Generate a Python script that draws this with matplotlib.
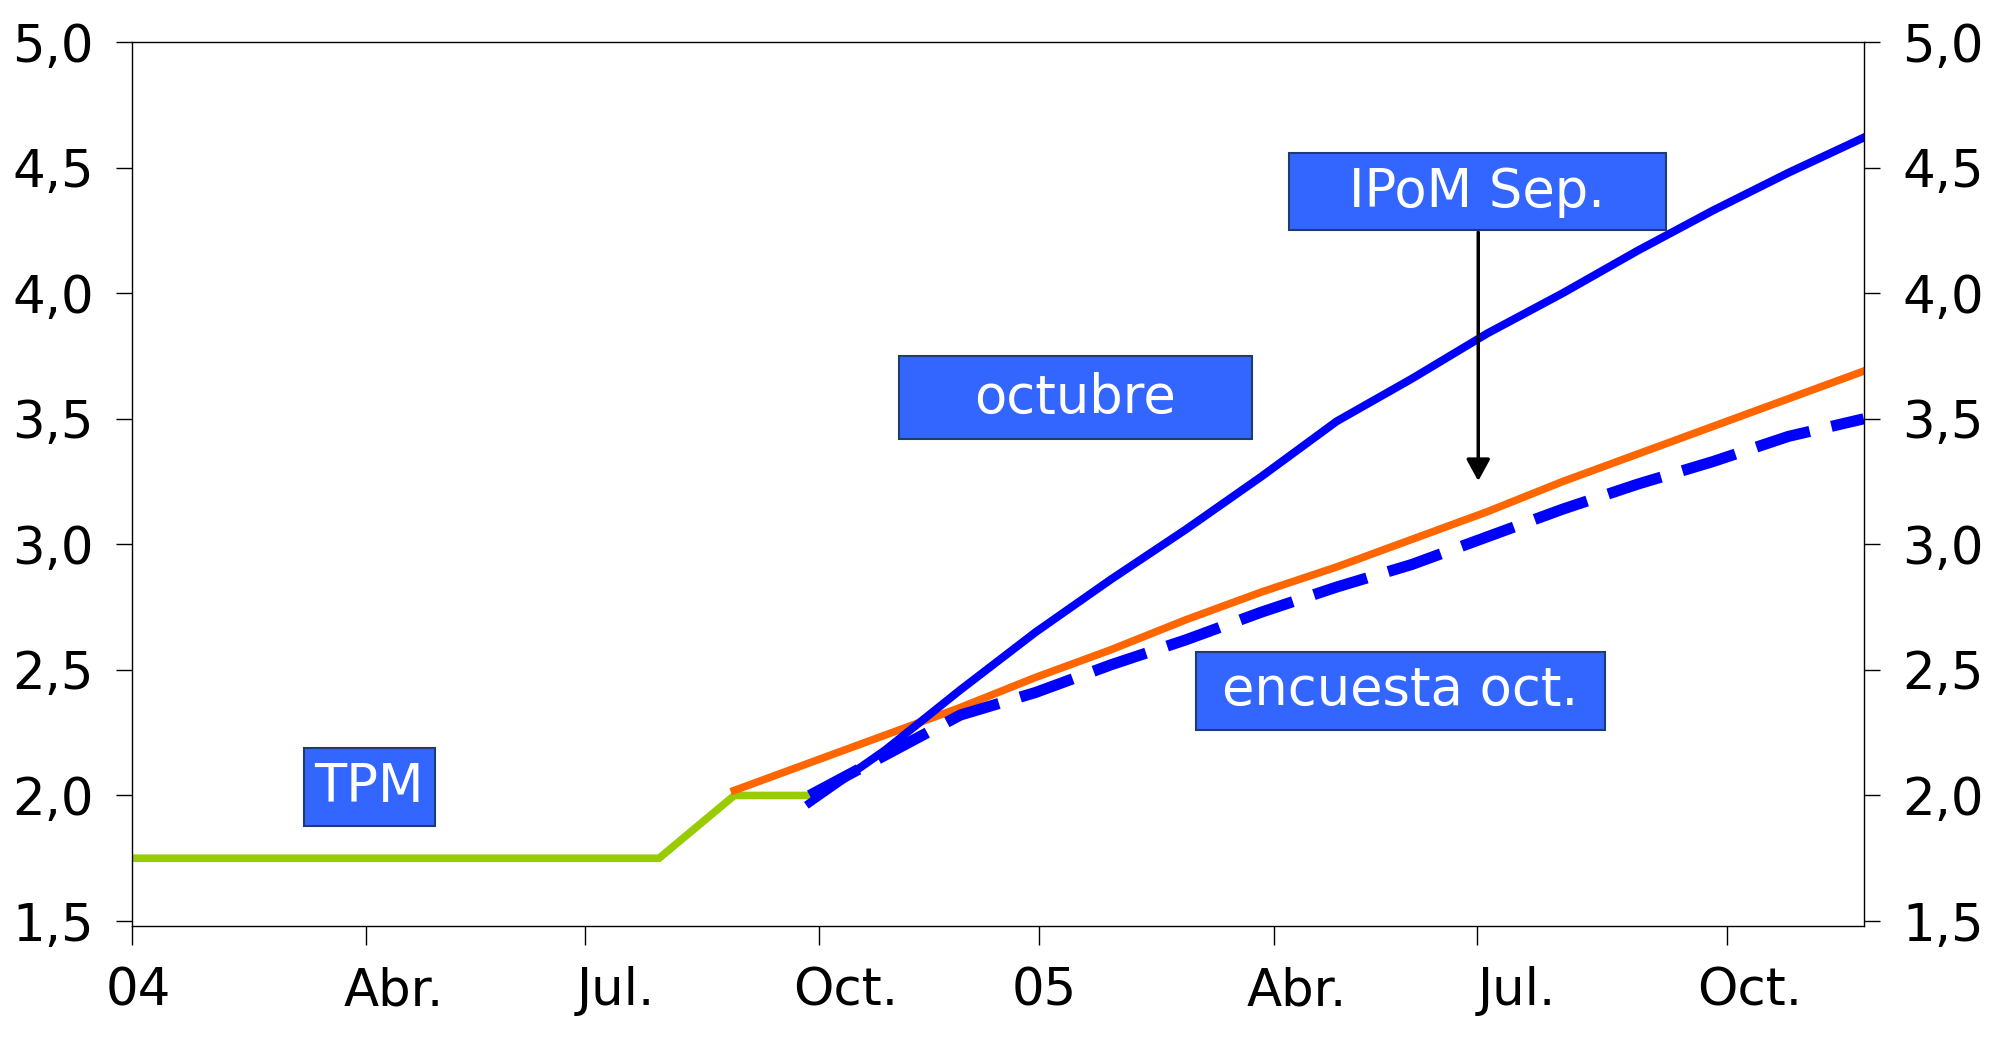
import matplotlib
matplotlib.use('Agg')
import matplotlib.pyplot as plt
from matplotlib.patches import Rectangle
from matplotlib.ticker import FuncFormatter

# meses desde ene-2004 (0) hasta dic-2005 (23)
meses_tpm = list(range(0, 10))
tpm = [1.75, 1.75, 1.75, 1.75, 1.75, 1.75, 1.75, 1.75, 2.00, 2.00]

meses_ipom = list(range(8, 24))
ipom_sep = [2.02, 2.13, 2.24, 2.35, 2.47, 2.58, 2.70, 2.81,
            2.91, 3.02, 3.13, 3.25, 3.36, 3.47, 3.58, 3.69]

meses_oct = list(range(9, 24))
octubre = [1.97, 2.18, 2.42, 2.65, 2.86, 3.06, 3.27, 3.49,
           3.66, 3.84, 4.00, 4.17, 4.33, 4.48, 4.62]
encuesta_oct = [2.00, 2.16, 2.32, 2.41, 2.52, 2.62, 2.73, 2.83,
                2.92, 3.03, 3.14, 3.24, 3.33, 3.43, 3.50]

tick_pos = [0, 3.11, 6.01, 9.13, 12.04, 15.17, 17.86, 21.18]
label_pos = [0.09, 3.47, 6.43, 9.48, 12.11, 15.47, 18.39, 21.49]
tick_labels = ['04', 'Abr.', 'Jul.', 'Oct.', '05', 'Abr.', 'Jul.', 'Oct.']

plt.rcParams['font.family'] = ['DejaVu Sans']
fs = 37

fig = plt.figure(figsize=(20.09, 10.46), dpi=100)
ax = fig.add_axes([0.0657, 0.1147, 0.862, 0.845])

ax.plot(meses_tpm, tpm, color='#99CC00', lw=5.5, solid_joinstyle='miter')
ax.plot(meses_ipom, ipom_sep, color='#FF6600', lw=5.5)
ax.plot(meses_oct, octubre, color='#0000FF', lw=5.8)
ax.plot(meses_oct, encuesta_oct, color='#0000FF', lw=8, dashes=(5, 2),
        dash_capstyle='butt')

ax.set_xlim(0, 23)
ax.set_ylim(1.48, 5.0)
ax.set_yticks([1.5, 2.0, 2.5, 3.0, 3.5, 4.0, 4.5, 5.0])
ax.yaxis.set_major_formatter(FuncFormatter(lambda v, p: f'{v:.1f}'.replace('.', ',')))
ax.tick_params(axis='y', which='major', left=True, right=True, labelleft=True,
               labelright=True, direction='out', length=11.5, width=1,
               labelsize=fs, pad=16)

ax.set_xticks(tick_pos)
ax.set_xticklabels([])
ax.set_xticks(label_pos, minor=True)
ax.set_xticklabels(tick_labels, minor=True)
ax.tick_params(axis='x', which='major', direction='out', length=13.7, width=1)
ax.tick_params(axis='x', which='minor', length=0, labelsize=fs, pad=29)

for s in ax.spines.values():
    s.set_linewidth(1.0)

# recuadros de texto (x0, y0, ancho, alto en unidades de datos)
cajas = [
    ('TPM', 2.28, 1.88, 1.74, 0.31),
    ('octubre', 10.19, 3.42, 4.68, 0.33),
    ('IPoM Sep.', 15.37, 4.25, 5.00, 0.31),
    ('encuesta oct.', 14.13, 2.26, 5.43, 0.31),
]
for txt, x0, y0, w, h in cajas:
    ax.add_patch(Rectangle((x0, y0), w, h, facecolor='#3366FF',
                           edgecolor='#1C3D6E', lw=1.5, zorder=5))
    ax.text(x0 + w / 2, y0 + h / 2, txt, color='white', fontsize=38,
            ha='center', va='center', zorder=6)

ax.annotate('', xy=(17.88, 3.252), xytext=(17.88, 4.243),
            arrowprops=dict(arrowstyle='-|>,head_length=0.55,head_width=0.3',
                            color='black', lw=2.5, mutation_scale=24,
                            shrinkA=0, shrinkB=0), zorder=4)

fig.savefig('out.png', dpi=100)
